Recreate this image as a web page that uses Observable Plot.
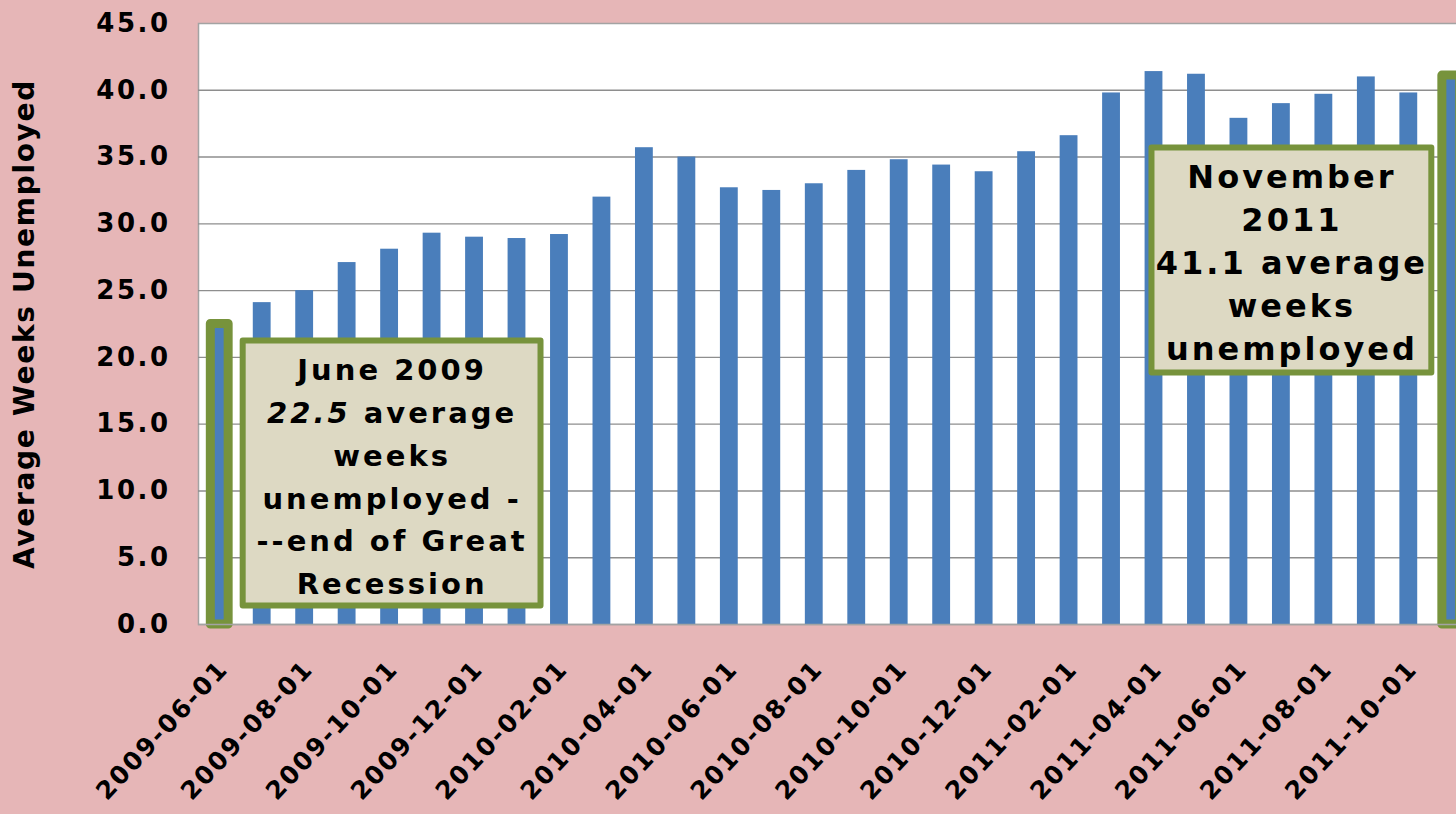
<!DOCTYPE html>
<html>
<head>
<meta charset="utf-8">
<script src="https://cdn.jsdelivr.net/npm/d3@7"></script>
<script src="https://cdn.jsdelivr.net/npm/@observablehq/plot@0.6"></script>
<style>
  html, body { margin: 0; padding: 0; background: #e6b6b7; overflow: hidden; width: 1456px; height: 814px; }
  #chart { width: 1456px; height: 814px; overflow: hidden; }
  #chart svg { display: block; max-width: none !important; font-family: "DejaVu Sans", Verdana, sans-serif; font-weight: bold; }
  #chart [aria-label="y-axis tick label"] { font-size: 26px !important; letter-spacing: 2.5px; }
  #chart [aria-label="x-axis tick label"] { font-size: 25px !important; letter-spacing: 2px; }
  #chart [aria-label="y-axis label"] { font-size: 28px !important; letter-spacing: 1.7px; }
  #chart .note1 { font-size: 29px !important; letter-spacing: 3px; }
  #chart .note2 { font-size: 32px !important; letter-spacing: 3px; }
</style>
</head>
<body>
<div id="chart"></div>
<script>
// ---- data ----
const months = [
  "2009-06-01","2009-07-01","2009-08-01","2009-09-01","2009-10-01","2009-11-01","2009-12-01",
  "2010-01-01","2010-02-01","2010-03-01","2010-04-01","2010-05-01","2010-06-01","2010-07-01",
  "2010-08-01","2010-09-01","2010-10-01","2010-11-01","2010-12-01",
  "2011-01-01","2011-02-01","2011-03-01","2011-04-01","2011-05-01","2011-06-01","2011-07-01",
  "2011-08-01","2011-09-01","2011-10-01","2011-11-01"
];
const weeks = [
  22.5, 24.1, 25.0, 27.1, 28.1, 29.3, 29.0,
  28.9, 29.2, 32.0, 35.7, 35.0, 32.7, 32.5,
  33.0, 34.0, 34.8, 34.4, 33.9,
  35.4, 36.6, 39.8, 41.4, 41.2, 37.9, 39.0,
  39.7, 41.0, 39.8, 41.1
];
const highlightedMonths = ["2009-06-01", "2011-11-01"];
const yTicks = [0, 5, 10, 15, 20, 25, 30, 35, 40, 45];
const xTickMonths = months.filter((d, i) => i % 2 === 0);
const yLabel = "Average Weeks Unemployed";

// annotation boxes (anchored on a month band, spanning a value range)
const noteMonths = ["2009-10-01", "2011-07-01"];
const noteLow = [1.39, 18.83];
const noteHigh = [21.23, 35.68];
const noteTexts = [
  "June 2009\n22.5 average\nweeks\nunemployed -\n--end of Great\nRecession",
  "November\n2011\n41.1 average\nweeks\nunemployed"
];

// ---- build ----
const data = months.map((m, i) => ({month: m, weeks: weeks[i]}));
const highlighted = data.filter(d => highlightedMonths.includes(d.month));
const notes = noteMonths.map((m, i) => ({month: m, low: noteLow[i], high: noteHigh[i], mid: (noteLow[i] + noteHigh[i]) / 2, text: noteTexts[i]}));

const blue = "#4a7ebb";
const green = "#77933c";
const tan = "#ddd9c3";

const chart = Plot.plot({
  width: 1472,
  height: 814,
  marginLeft: 198,
  marginRight: 0,
  marginTop: 23,
  marginBottom: 190,
  style: {background: "transparent", color: "#000", overflow: "visible", maxWidth: "none"},
  x: {type: "band", domain: months, paddingInner: 0.58, paddingOuter: 0.29, align: 0.5, round: false},
  y: {domain: [0, 45]},
  marks: [
    Plot.frame({fill: "white", stroke: "#a3a3a3", strokeWidth: 1.5}),
    Plot.ruleY(yTicks.filter(t => t > 0 && t < 45), {stroke: "#8e8e8e", strokeWidth: 1.4}),
    Plot.barY(data, {x: "month", y: "weeks", fill: blue}),
    Plot.barY(highlighted, {x: "month", y: "weeks", fill: blue, stroke: green, strokeWidth: 9, strokeLinejoin: "round"}),
    Plot.ruleY([0], {stroke: "#a3a3a3", strokeWidth: 1.5}),
    Plot.barY([notes[0]], {x: "month", y1: "low", y2: "high", fill: tan, stroke: green, strokeWidth: 6, strokeLinejoin: "round", insetLeft: -140, insetRight: -140, dx: 2.5}),
    Plot.text([notes[0]], {x: "month", y: "mid", text: "text", lineHeight: 1.476, lineAnchor: "middle", fill: "#000", className: "note1", dx: 2.5}),
    Plot.barY([notes[1]], {x: "month", y1: "low", y2: "high", fill: tan, stroke: green, strokeWidth: 6, strokeLinejoin: "round", insetLeft: -131, insetRight: -131, dx: 10.5}),
    Plot.text([notes[1]], {x: "month", y: "mid", text: "text", lineHeight: 1.34, lineAnchor: "middle", fill: "#000", className: "note2", dx: 10.5}),
    Plot.axisX({ticks: xTickMonths, tickSize: 0, tickRotate: -47, tickPadding: 40, dx: 4, label: null}),
    Plot.axisY({ticks: yTicks, tickFormat: d => d.toFixed(1), tickSize: 0, tickPadding: 28, label: yLabel, labelAnchor: "center", labelArrow: "none", labelOffset: 184})
  ]
});

document.getElementById("chart").appendChild(chart);

// italicise "22.5" in the first note
chart.querySelectorAll("text tspan, text").forEach(el => {
  if (el.childElementCount === 0 && el.textContent === "22.5 average") {
    el.textContent = "";
    const ns = "http://www.w3.org/2000/svg";
    const a = document.createElementNS(ns, "tspan");
    a.setAttribute("font-style", "italic");
    a.textContent = "22.5";
    const b = document.createElementNS(ns, "tspan");
    b.textContent = " average";
    el.appendChild(a);
    el.appendChild(b);
  }
});
</script>
</body>
</html>
